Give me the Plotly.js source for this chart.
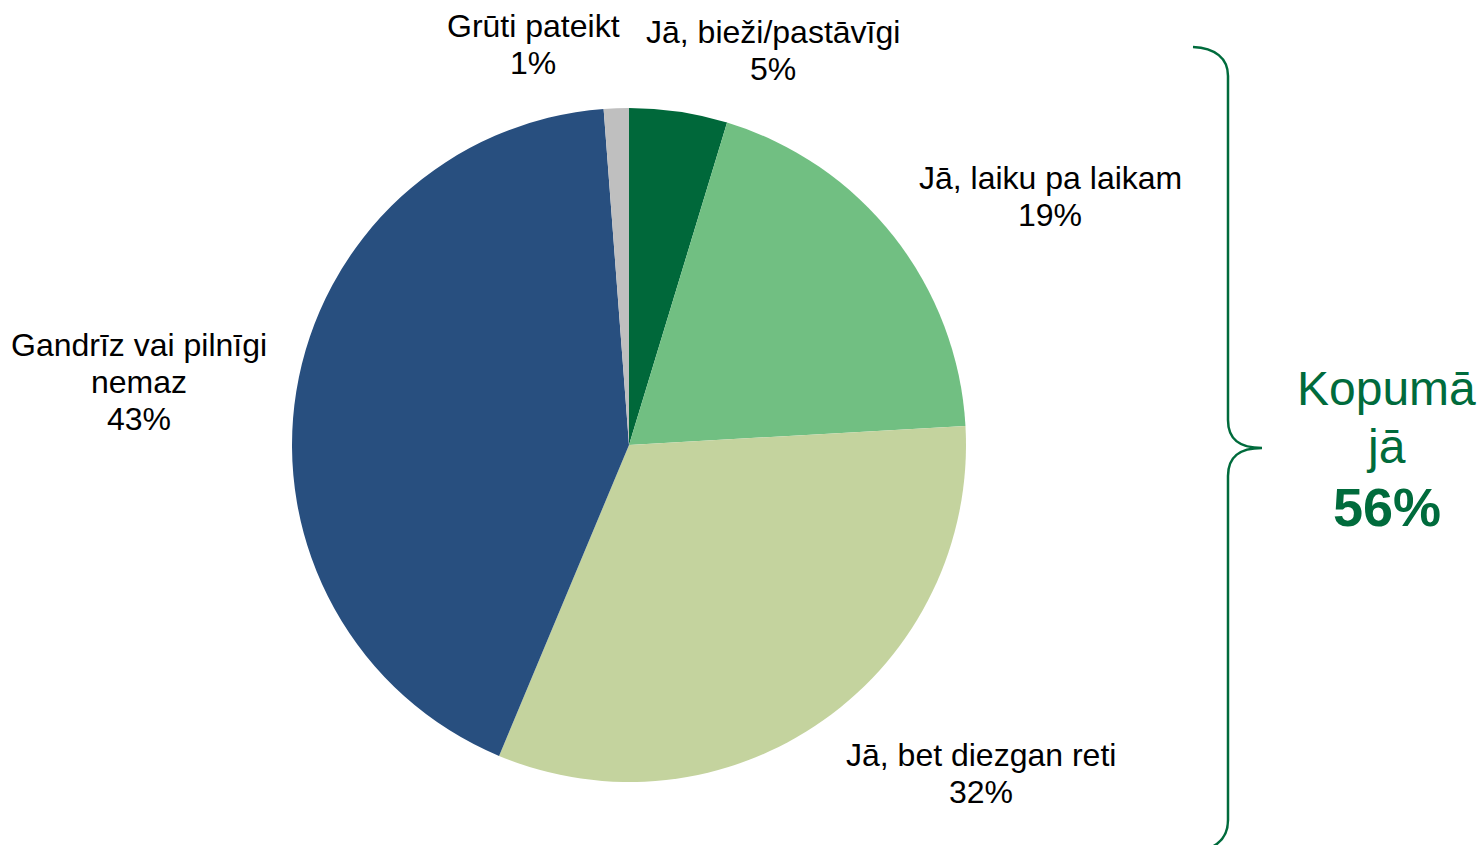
<!DOCTYPE html>
<html>
<head>
<meta charset="utf-8">
<script src="https://cdn.plot.ly/plotly-3.0.1.min.js"></script>
<style>
  html, body { margin: 0; padding: 0; background: #ffffff; }
  #chart { width: 1478px; height: 845px; }
</style>
</head>
<body>
<div id="chart"></div>
<script>
// ---- data ----
const categories = [
  "Jā, bieži/pastāvīgi",
  "Jā, laiku pa laikam",
  "Jā, bet diezgan reti",
  "Gandrīz vai pilnīgi<br>nemaz",
  "Grūti pateikt"
];
const shares = [4.7, 19.4, 32.2, 42.5, 1.2];
const yesFlags = [true, true, true, false, false];
const totalLabel = ["Kopumā", "jā"];

// ---- style ----
const W = 1478, H = 845;
const colors = ["#00683A", "#71BF82", "#C4D39E", "#284F7F", "#BFBFBF"];
const labelPos = [   // centre x, first line centre y (px)
  [773, 32],
  [1050, 178],
  [981, 755],
  [139, 345],
  [533, 26]
];
const lineStep = 37;
const labelFont = { family: "Liberation Sans, Arial, sans-serif", size: 32, color: "#000000" };
const green = "#006B3C";

const px = x => x / W;
const py = y => 1 - y / H;

const annotations = [];
categories.forEach((c, i) => {
  const lines = c.split("<br>").concat([Math.round(shares[i]) + "%"]);
  lines.forEach((t, j) => {
    annotations.push({
      xref: "paper", yref: "paper",
      x: px(labelPos[i][0]), y: py(labelPos[i][1] + j * lineStep),
      xanchor: "center", yanchor: "middle",
      text: t, showarrow: false, font: labelFont
    });
  });
});

const yesTotal = shares.reduce((s, v, i) => s + (yesFlags[i] ? v : 0), 0);
annotations.push({
  xref: "paper", yref: "paper", x: px(1386), y: py(388),
  xanchor: "center", yanchor: "middle", showarrow: false,
  text: totalLabel[0], font: { family: "Liberation Sans, Arial, sans-serif", size: 48, color: green }
});
annotations.push({
  xref: "paper", yref: "paper", x: px(1386), y: py(446),
  xanchor: "center", yanchor: "middle", showarrow: false,
  text: totalLabel[1], font: { family: "Liberation Sans, Arial, sans-serif", size: 48, color: green }
});
annotations.push({
  xref: "paper", yref: "paper", x: px(1387), y: py(507),
  xanchor: "center", yanchor: "middle", showarrow: false,
  text: "<b>" + Math.round(yesTotal) + "%</b>",
  font: { family: "Liberation Sans, Arial, sans-serif", size: 54, color: green }
});

// brace path in px, converted to paper coords
const bracePx = [
  ["M", 1193, 47],
  ["C", 1215, 48, 1228, 58, 1228, 76],
  ["L", 1228, 420],
  ["C", 1228, 440, 1240, 448, 1262, 448],
  ["C", 1240, 448, 1228, 456, 1228, 476],
  ["L", 1228, 820],
  ["C", 1228, 838, 1218, 846, 1204, 850]
];
const bracePath = bracePx.map(seg => {
  const cmd = seg[0];
  const pts = [];
  for (let k = 1; k < seg.length; k += 2) pts.push(px(seg[k]) + "," + py(seg[k + 1]));
  return cmd + pts.join(" ");
}).join(" ");

const trace = {
  type: "pie",
  labels: categories,
  values: shares,
  sort: false,
  direction: "clockwise",
  rotation: 0,
  textinfo: "none",
  hoverinfo: "label+percent",
  marker: { colors: colors, line: { width: 0 } },
  domain: { x: [292 / W, 966 / W], y: [(H - 782) / H, (H - 108) / H] },
  showlegend: false
};

const layout = {
  width: W, height: H,
  margin: { l: 0, r: 0, t: 0, b: 0 },
  paper_bgcolor: "#ffffff",
  showlegend: false,
  annotations: annotations,
  shapes: [{
    type: "path", xref: "paper", yref: "paper",
    path: bracePath,
    line: { color: green, width: 2.5 }
  }]
};

Plotly.newPlot("chart", [trace], layout, { displayModeBar: false, staticPlot: true });
</script>
</body>
</html>
